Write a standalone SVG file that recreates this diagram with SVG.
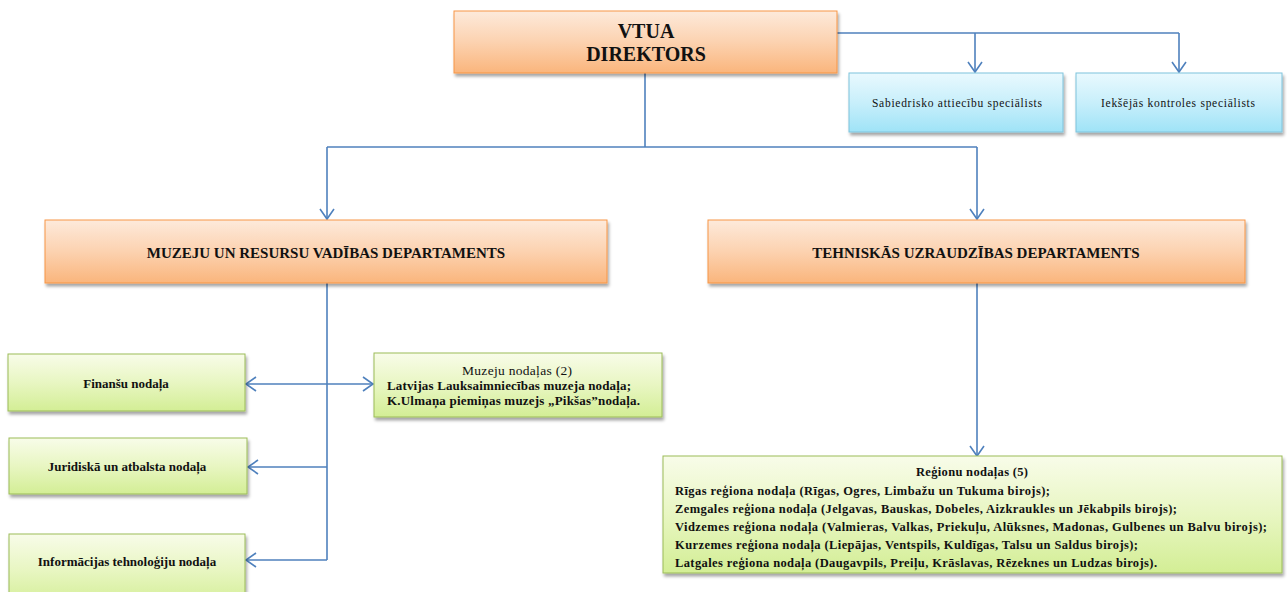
<svg xmlns="http://www.w3.org/2000/svg" width="1287" height="592" viewBox="0 0 1287 592">
<defs>
<linearGradient id="gOr" x1="0" y1="0" x2="0" y2="1"><stop offset="0" stop-color="#fdeadb"/><stop offset="0.5" stop-color="#fcd2b0"/><stop offset="1" stop-color="#fab57c"/></linearGradient>
<linearGradient id="gBl" x1="0" y1="0" x2="0" y2="1"><stop offset="0" stop-color="#e9f9fe"/><stop offset="0.5" stop-color="#c8effb"/><stop offset="1" stop-color="#9fe3f7"/></linearGradient>
<linearGradient id="gGr" x1="0" y1="0" x2="0" y2="1"><stop offset="0" stop-color="#f8fce9"/><stop offset="0.5" stop-color="#e8f6c2"/><stop offset="1" stop-color="#d3ee95"/></linearGradient>
<filter id="sh" x="-10%" y="-20%" width="120%" height="150%"><feDropShadow dx="1.5" dy="3" stdDeviation="1.8" flood-color="#000" flood-opacity="0.35"/></filter>
<marker id="ar" markerUnits="userSpaceOnUse" markerWidth="14" markerHeight="18" refX="11" refY="8" orient="auto" viewBox="0 0 14 16"><path d="M1,1 L11,8 L1,15" fill="none" stroke="#4f81bd" stroke-width="1.6"/></marker>
<marker id="arS" markerUnits="userSpaceOnUse" markerWidth="14" markerHeight="18" refX="11" refY="8" orient="auto-start-reverse" viewBox="0 0 14 16"><path d="M1,1 L11,8 L1,15" fill="none" stroke="#4f81bd" stroke-width="1.6"/></marker>
</defs>
<style>
.or{fill:url(#gOr);stroke:#f79646;stroke-width:1;filter:url(#sh)}
.bl{fill:url(#gBl);stroke:#7fc3dc;stroke-width:1;filter:url(#sh)}
.gr{fill:url(#gGr);stroke:#9bbb59;stroke-width:1;filter:url(#sh)}
text{font-family:"Liberation Serif","Times New Roman",serif;fill:#111}
.b{font-weight:bold}
.c{text-anchor:middle}
.ln{fill:none;stroke:#4f81bd;stroke-width:1.6}
</style>

<g id="connectors">
<path class="ln" d="M837,33 H1179"/>
<path class="ln" d="M975,33 V72" marker-end="url(#ar)"/>
<path class="ln" d="M1179,33 V72" marker-end="url(#ar)"/>
<path class="ln" d="M645,73 V147"/>
<path class="ln" d="M327,147 H977"/>
<path class="ln" d="M327,147 V219" marker-end="url(#ar)"/>
<path class="ln" d="M977,147 V219" marker-end="url(#ar)"/>
<path class="ln" d="M327,283 V560"/>
<path class="ln" d="M246,384 H373" marker-start="url(#arS)" marker-end="url(#ar)"/>
<path class="ln" d="M327,467 H248" marker-end="url(#ar)"/>
<path class="ln" d="M327,560 H246" marker-end="url(#ar)"/>
<path class="ln" d="M977,283 V456" marker-end="url(#ar)"/>
</g>

<g id="director">
<rect class="or" x="454" y="11" width="383" height="62"/>
<text class="b c" x="646" y="38" font-size="20">VTUA</text>
<text class="b c" x="646" y="61" font-size="20">DIREKTORS</text>
</g>

<g id="sabiedrisko">
<rect class="bl" x="849" y="73" width="214" height="59"/>
<text class="c" x="957" y="107" font-size="11.5" textLength="170">Sabiedrisko attiecību speciālists</text>
</g>

<g id="iekseja">
<rect class="bl" x="1076" y="73" width="206" height="59"/>
<text class="c" x="1178" y="107" font-size="11.5" textLength="154">Iekšējās kontroles speciālists</text>
</g>

<g id="muzeju-dep">
<rect class="or" x="45" y="220" width="562" height="63"/>
<text class="b c" x="326" y="258" font-size="15">MUZEJU UN RESURSU VADĪBAS DEPARTAMENTS</text>
</g>

<g id="tehniskas-dep">
<rect class="or" x="708" y="220" width="537" height="63"/>
<text class="b c" x="976" y="258" font-size="15">TEHNISKĀS UZRAUDZĪBAS DEPARTAMENTS</text>
</g>

<g id="finansu">
<rect class="gr" x="8" y="354" width="237" height="57"/>
<text class="b c" x="126" y="388" font-size="13">Finanšu nodaļa</text>
</g>

<g id="juridiska">
<rect class="gr" x="9" y="438" width="238" height="56"/>
<text class="b c" x="127" y="471" font-size="13">Juridiskā un atbalsta nodaļa</text>
</g>

<g id="informacijas">
<rect class="gr" x="9" y="534" width="236" height="72"/>
<text class="b c" x="127" y="566" font-size="13">Informācijas tehnoloģiju nodaļa</text>
</g>

<g id="muzeju-nodalas">
<rect class="gr" x="374" y="353" width="288" height="64"/>
<text class="c" x="517" y="375" font-size="13.5" textLength="110">Muzeju nodaļas (2)</text>
<text class="b" x="387" y="390" font-size="13" textLength="244">Latvijas Lauksaimniecības muzeja nodaļa;</text>
<text class="b" x="387" y="405" font-size="13" textLength="253">K.Ulmaņa piemiņas muzejs „Pikšas”nodaļa.</text>
</g>

<g id="regionu-nodalas">
<rect class="gr" x="663" y="456" width="619" height="117"/>
<text class="b c" x="972" y="476" font-size="12.5" textLength="112">Reģionu nodaļas (5)</text>
<text class="b" x="675" y="495" font-size="12.5" textLength="375">Rīgas reģiona nodaļa (Rīgas, Ogres, Limbažu un Tukuma birojs);</text>
<text class="b" x="675" y="513" font-size="12.5" textLength="502">Zemgales reģiona nodaļa (Jelgavas, Bauskas, Dobeles, Aizkraukles un Jēkabpils birojs);</text>
<text class="b" x="675" y="531" font-size="12.5" textLength="592">Vidzemes reģiona nodaļa (Valmieras, Valkas, Priekuļu, Alūksnes, Madonas, Gulbenes un Balvu birojs);</text>
<text class="b" x="675" y="549" font-size="12.5" textLength="463">Kurzemes reģiona nodaļa (Liepājas, Ventspils, Kuldīgas, Talsu un Saldus birojs);</text>
<text class="b" x="675" y="567" font-size="12.5" textLength="482">Latgales reģiona nodaļa (Daugavpils, Preiļu, Krāslavas, Rēzeknes un Ludzas birojs).</text>
</g>
</svg>
